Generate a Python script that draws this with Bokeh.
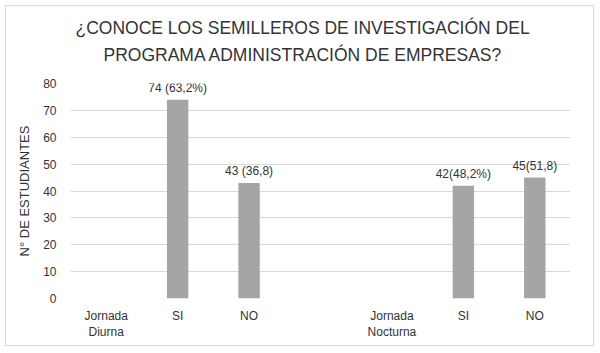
from bokeh.plotting import figure
from bokeh.models import ColumnDataSource, FixedTicker, Title, LabelSet
from bokeh.embed import file_html
from bokeh.resources import INLINE
from bokeh.core.properties import value

categories = ["Jornada\nDiurna", "SI", "NO", "", "Jornada\nNocturna", "SI", "NO"]
counts = [0, 74, 43, 0, 0, 42, 45]
bar_labels = ["", "74 (63,2%)", "43 (36,8)", "", "", "42(48,2%)", "45(51,8)"]
title_lines = ["¿CONOCE LOS SEMILLEROS DE INVESTIGACIÓN  DEL",
               "PROGRAMA ADMINISTRACIÓN  DE EMPRESAS?"]
y_label = "N° DE ESTUDIANTES"

xs = list(range(len(categories)))
src = ColumnDataSource(dict(x=xs, top=counts, label=bar_labels))

FONT = "Liberation Sans"

p = figure(width=589, height=341, x_range=(-0.5, len(categories) - 0.5), y_range=(0, 80),
           output_backend="svg", toolbar_location=None,
           min_border_left=64, min_border_right=25, min_border_top=77, min_border_bottom=49,
           margin=(5, 5, 5, 5), styles={"border": "1px solid #d9d9d9"})
p.title = None
p.add_layout(Title(text=title_lines[1], align="left", text_font=FONT, text_font_size="17.5px",
                   text_font_style="normal", text_color="#333333", standoff=38, offset=33), "above")
p.add_layout(Title(text=title_lines[0], align="left", text_font=FONT, text_font_size="17.5px",
                   text_font_style="normal", text_color="#333333", standoff=-28, offset=5), "above")

p.vbar(x="x", top="top", width=0.3, source=src, fill_color="#a5a5a5", line_color=None)
p.add_layout(LabelSet(x="x", y="top", text="label", source=src, text_align="center",
                      text_baseline="bottom", y_offset=5, text_font=value(FONT),
                      text_font_size=value("12px"), text_color=value("#333333")))

p.xaxis.ticker = FixedTicker(ticks=[i for i, c in enumerate(categories) if c])
p.xaxis.major_label_overrides = {i: c for i, c in enumerate(categories) if c}
p.yaxis.ticker = FixedTicker(ticks=list(range(0, 81, 10)))
for ax in (p.xaxis[0], p.yaxis[0]):
    ax.axis_line_color = None
    ax.major_tick_line_color = None
    ax.minor_tick_line_color = None
    ax.major_label_text_font = FONT
    ax.major_label_text_font_size = "12px"
    ax.major_label_text_color = "#333333"
p.xaxis.major_label_standoff = 4
p.yaxis.major_label_standoff = 8
p.yaxis.axis_label = y_label
p.yaxis.axis_label_text_font = FONT
p.yaxis.axis_label_text_font_size = "13px"
p.yaxis.axis_label_text_font_style = "normal"
p.yaxis.axis_label_text_color = "#333333"
p.yaxis.axis_label_standoff = 8

p.xgrid.grid_line_color = None
p.ygrid.grid_line_color = "#d9d9d9"
p.outline_line_color = None

open("out.html", "w").write(file_html(p, INLINE))
